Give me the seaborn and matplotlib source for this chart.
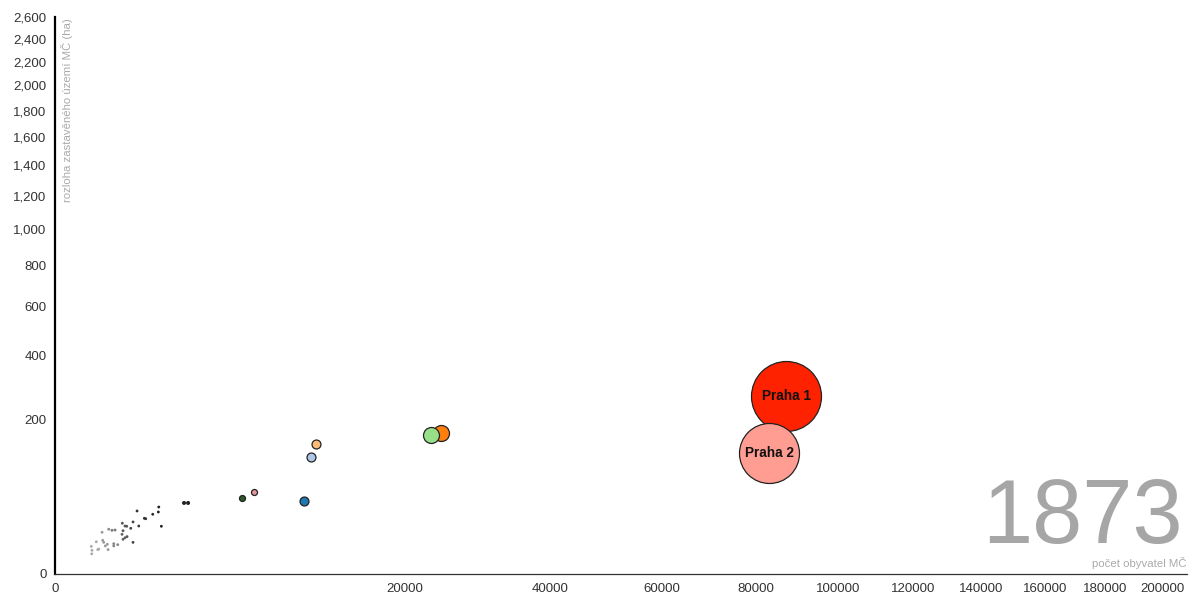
import numpy as np
import pandas as pd
import matplotlib
matplotlib.use("Agg")
import matplotlib.pyplot as plt
import seaborn as sns

# data (rok 1873)
rok = "1873"
nazvy = ["Praha 1", "Praha 2", "oranzova", "zelena", "svetle_oranzova", "levandulova",
         "modra", "ruzova", "tmave_zelena", "cerna_a", "cerna_b"] + [f"obec_{i}" for i in range(37)]
obyvatele = [87250, 83220, 24320, 23080, 11120, 10700, 10120, 6465, 5710, 2716, 2888,
             1756, 1742, 1845, 1558, 1302, 1343, 1098, 1144, 993, 936, 993, 839, 800,
             739, 755, 733, 846, 800, 755, 588, 530, 471, 361, 563, 642, 563, 447, 459,
             387, 371, 413, 278, 312, 298, 215, 223, 220]
rozloha = [265.7, 122.8, 166.7, 162.0, 141.7, 114.8, 44.7, 56.4, 48.4, 42.3, 42.3,
           37.6, 32.2, 19.1, 29.9, 26.0, 25.6, 33.3, 19.3, 22.7, 17.5, 8.4, 19.1, 19.3,
           21.6, 15.7, 13.2, 11.7, 11.0, 10.1, 16.2, 16.0, 16.8, 14.6, 7.7, 7.2, 6.6, 7.4,
           5.0, 8.4, 9.5, 6.6, 8.7, 5.2, 5.0, 6.4, 4.7, 3.4]
velikost = [1225, 900, 64, 64, 20, 20, 20, 9, 9, 4, 4] + [2] * 37
barvy = ["#ff2200", "#ff9d92", "#ff7f0e", "#98df8a", "#ffbb78", "#aec7e8", "#1f77b4",
         "#e7969c", "#2d5a2a", "#222222", "#222222",
         "#222222", "#222222", "#222222", "#2a2a2a", "#333333", "#333333", "#333333",
         "#3a3a3a", "#444444", "#444444", "#444444", "#555555", "#555555", "#555555",
         "#555555", "#606060", "#555555", "#606060", "#606060", "#777777", "#777777",
         "#888888", "#999999", "#888888", "#888888", "#888888", "#999999", "#999999",
         "#999999", "#999999", "#999999", "#aaaaaa", "#aaaaaa", "#aaaaaa", "#aaaaaa",
         "#aaaaaa", "#aaaaaa"]
popisky = ["Praha 1", "Praha 2"]

x_ticks = list(range(0, 200001, 20000))
y_ticks = list(range(0, 2601, 200))

df = pd.DataFrame({"nazev": nazvy, "obyvatele": obyvatele, "rozloha": rozloha,
                   "velikost": velikost, "barva": barvy})

sns.set_theme(style="white")
plt.rcParams["font.family"] = ["Liberation Sans", "DejaVu Sans"]

fig = plt.figure(figsize=(11.91, 5.96), dpi=100)
ax = fig.add_axes([55 / 1191, 22 / 596, 1132 / 1191, 557 / 596])

fwd = lambda v: np.sqrt(np.maximum(v, 0))
inv = lambda v: np.square(v)
ax.set_xscale("function", functions=(fwd, inv))
ax.set_yscale("function", functions=(fwd, inv))

# radius in px ~ sqrt(velikost); scatter size in pt^2
polomer = np.sqrt(df["velikost"].to_numpy())
s_map = {n: (2 * r * 0.72) ** 2 for n, r in zip(df["nazev"], polomer)}

for i, row in df.iterrows():
    velky = row["velikost"] >= 9
    sns.scatterplot(data=df.iloc[[i]], x="obyvatele", y="rozloha", hue="nazev",
                    palette={row["nazev"]: row["barva"]}, s=s_map[row["nazev"]],
                    edgecolor="#222222" if velky else "none",
                    linewidth=0.9 if velky else 0,
                    legend=False, ax=ax, zorder=3)

for n in popisky:
    r = df[df["nazev"] == n].iloc[0]
    ax.text(r["obyvatele"], r["rozloha"], n, ha="center", va="center",
            fontsize=9.8, fontweight="bold", color="#111111", zorder=5)

ax.set_xlim(0, 209000)
ax.set_ylim(0, 2600)
ax.set_xticks(x_ticks)
ax.set_xticklabels([str(v) for v in x_ticks])
ax.set_yticks(y_ticks)
ax.set_yticklabels([f"{v:,}" for v in y_ticks])
ax.set_xlabel("")
ax.set_ylabel("")

for sp in ["top", "right"]:
    ax.spines[sp].set_visible(False)
ax.spines["left"].set_color("black")
ax.spines["left"].set_linewidth(1.6)
ax.spines["bottom"].set_color("#333333")
ax.spines["bottom"].set_linewidth(0.9)
ax.tick_params(axis="both", which="major", direction="out", length=4.5, width=0.9,
               color="black", labelsize=9.5, labelcolor="#333333")
ax.tick_params(axis="y", pad=1.5)
ax.tick_params(axis="x", pad=2)
ax.grid(False)

ax.text(12 / 1132, 1.0 - 1 / 557, "rozloha zastavěného území MČ (ha)", transform=ax.transAxes,
        rotation=90, ha="center", va="top", fontsize=8.2, color="#aaaaaa")
ax.text(1.0, 7 / 557, "počet obyvatel MČ", transform=ax.transAxes,
        ha="right", va="baseline", fontsize=8.2, color="#aaaaaa")
ax.text(1128 / 1132, 31 / 557, rok, transform=ax.transAxes,
        ha="right", va="baseline", fontsize=65, color="#a6a6a6")

fig.savefig("out.png", dpi=100, facecolor="white")
